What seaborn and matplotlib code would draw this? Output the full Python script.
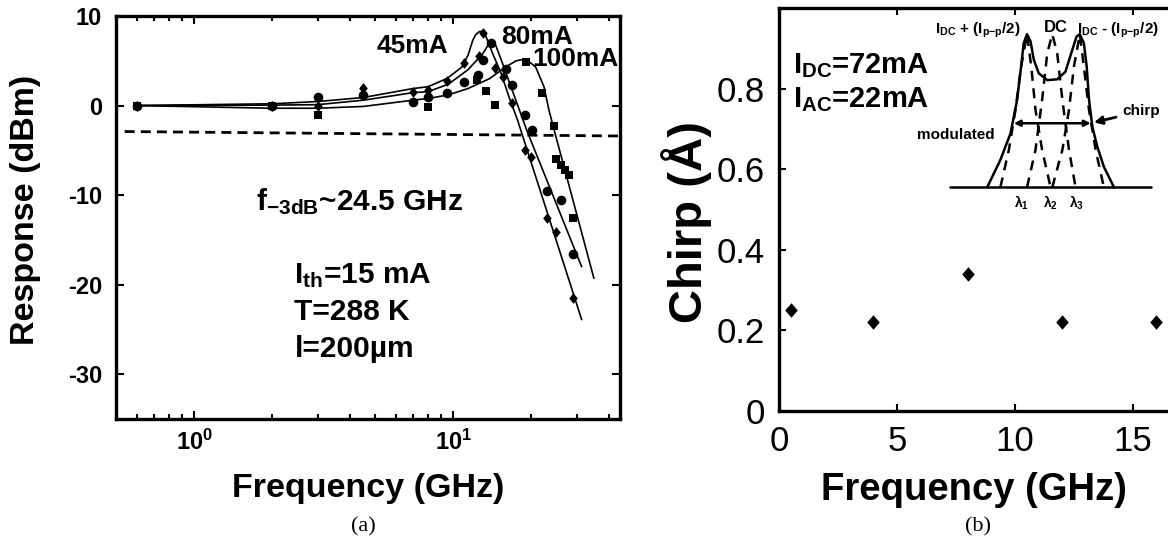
import numpy as np
import pandas as pd
import seaborn as sns
import matplotlib
matplotlib.use("Agg")
import matplotlib.pyplot as plt
from matplotlib.ticker import FixedLocator, LogLocator, NullFormatter

# --- (a) modulation response ---
f45 = [0.6, 2, 3, 4.5, 7, 8, 9.5, 11.0, 12.6, 13.0, 14.5, 15.5, 16.9, 19.0, 19.9, 23.1, 25.0, 29.0]
r45 = [0, 0, 0, 2.0, 1.55, 1.75, 2.7, 4.7, 5.5, 8.1, 4.2, 3.2, 0.3, -5.0, -5.7, -12.6, -14.1, -21.5]
f80 = [0.6, 2, 3, 4.5, 7, 8, 9.5, 11.0, 12.5, 13.0, 14.0, 16.0, 16.9, 19.0, 20.2, 23.1, 26.1, 29.0]
r80 = [0, 0, 1.0, 1.2, 0.45, 1.0, 1.35, 2.6, 3.4, 5.1, 7.0, 4.05, 2.3, -1.05, -2.7, -9.5, -10.5, -16.6]
f100 = [0.6, 2, 3, 8, 12.4, 13.4, 14.5, 19.05, 22.1, 24.5, 25.0, 26.0, 27.0, 28.0, 29.0]
r100 = [0, 0, -1.0, -0.2, 2.9, 1.6, 0.1, 4.9, 1.45, -2.3, -6.0, -6.6, -7.2, -7.8, -12.6]

# fitted curves (traced)
fit45_f = [0.6, 2, 3, 4.5, 7, 8, 9.5, 10.8, 11.4, 11.9, 12.2, 12.6, 12.95, 13.3, 14.2, 15.3, 16.4, 17.7, 19.6, 25, 31.3]
fit45_r = [0, 0.2, 0.45, 0.9, 1.9, 2.1, 3.05, 4.3, 5.6, 7.3, 7.9, 8.25, 8.3, 7.9, 5.8, 3.6, 1.0, -1.6, -5.6, -15.1, -23.9]
fit80_f = [0.6, 2, 3, 4.5, 7, 8, 9.6, 11.4, 13.0, 13.6, 14.0, 14.6, 15.5, 16.7, 17.9, 19.3, 31.3]
fit80_r = [0, 0.05, 0.1, 0.6, 1.44, 1.55, 2.4, 4.0, 5.8, 6.7, 7.1, 6.7, 4.7, 2.1, -0.3, -2.9, -18.0]
fit100_f = [0.6, 2, 3, 4.5, 7, 8.07, 9.6, 11.4, 13.8, 15.9, 17.5, 19.05, 20.8, 22.4, 23.4, 24.5, 34.9]
fit100_r = [0, -0.3, -0.3, -0.1, 0.6, 0.8, 1.2, 1.9, 3.0, 4.3, 5.0, 5.2, 4.3, 2.1, -0.5, -2.7, -19.3]
ref3db_f = [0.54, 44]
ref3db_r = [-2.9, -3.4]

# --- (b) chirp ---
chirp_f = [0.5, 4, 8, 12, 16]
chirp_a = [0.25, 0.22, 0.34, 0.22, 0.22]

# inset sketch of the spectra (in chirp-axis units)
base_x = [7.27, 15.77]
base_y = [0.555, 0.555]
env_x = [8.83, 9.39, 9.82, 10.10, 10.27, 10.38, 10.52, 10.67, 10.81, 11.02, 11.38, 11.80, 12.15,
         12.44, 12.62, 12.76, 12.93, 13.05, 13.15, 13.29, 13.50, 13.78, 14.21]
env_y = [0.555, 0.623, 0.689, 0.772, 0.855, 0.913, 0.935, 0.917, 0.871, 0.838, 0.821, 0.823, 0.842,
         0.896, 0.929, 0.935, 0.913, 0.855, 0.772, 0.706, 0.656, 0.606, 0.555]
l1_x = [9.39, 9.75, 10.03, 10.27, 10.52, 10.70, 10.88, 11.16, 11.52]
l2_x = [10.52, 10.88, 11.16, 11.38, 11.59, 11.80, 12.02, 12.30, 12.58]
l3_x = [11.59, 12.02, 12.30, 12.51, 12.76, 12.93, 13.15, 13.43, 13.78]
l1_y = [0.555, 0.648, 0.747, 0.855, 0.935, 0.855, 0.747, 0.648, 0.555]
l2_y = [0.555, 0.648, 0.772, 0.888, 0.935, 0.888, 0.772, 0.648, 0.555]
l3_y = [0.555, 0.648, 0.747, 0.855, 0.935, 0.855, 0.747, 0.648, 0.555]

sns.set_theme(style="ticks")
plt.rcParams['font.family'] = ['Liberation Sans', 'DejaVu Sans']
plt.rcParams['mathtext.fontset'] = 'custom'
plt.rcParams['mathtext.rm'] = 'Liberation Sans'
plt.rcParams['mathtext.bf'] = 'Liberation Sans:bold'
plt.rcParams['mathtext.it'] = 'Liberation Sans:italic'
for k in ['text.color', 'axes.labelcolor', 'xtick.color', 'ytick.color', 'axes.edgecolor']:
    plt.rcParams[k] = 'black'

W, H = 1168, 544
fig = plt.figure(figsize=(W / 100, H / 100), dpi=100)
ax1 = fig.add_axes([116 / W, 1 - 419 / H, 504 / W, 403 / H])
ax2 = fig.add_axes([779 / W, 1 - 411 / H, 389 / W, 403 / H])

diamond = [(0, 1), (0.8, 0), (0, -1), (-0.8, 0), (0, 1)]
diamond_b = [(0, 1), (0.86, 0), (0, -1), (-0.86, 0), (0, 1)]

# ---------- (a) ----------
ax1.set_xscale('log')
for fx, fy in [(fit45_f, fit45_r), (fit80_f, fit80_r), (fit100_f, fit100_r)]:
    sns.lineplot(x=fx, y=fy, ax=ax1, sort=False, estimator=None, color='black', lw=1.2)
sns.lineplot(x=ref3db_f, y=ref3db_r, ax=ax1, sort=False, estimator=None, color='black', lw=2.0)
ax1.lines[-1].set_dashes([3.6, 2.2])

sns.scatterplot(x=f45, y=r45, ax=ax1, marker=diamond, s=60, color='black', linewidth=0)
sns.scatterplot(x=f80, y=r80, ax=ax1, marker='o', s=48, color='black', linewidth=0)
sns.scatterplot(x=f100, y=r100, ax=ax1, marker='s', s=36, color='black', linewidth=0)

ax1.set_xlim(0.5, 44)
ax1.set_ylim(-35, 10)
ax1.yaxis.set_major_locator(FixedLocator([10, 0, -10, -20, -30]))
ax1.set_yticklabels(['10', '0', '-10', '-20', '-30'], fontsize=17, fontweight='bold')
ax1.xaxis.set_major_locator(FixedLocator([1, 10]))
ax1.set_xticklabels([r'$\mathbf{10^0}$', r'$\mathbf{10^1}$'], fontsize=17)
ax1.xaxis.set_minor_locator(LogLocator(base=10, subs=np.arange(2, 10)))
ax1.xaxis.set_minor_formatter(NullFormatter())
ax1.tick_params(which='both', direction='in', top=True, right=True, width=1.5)
ax1.tick_params(which='major', length=6, pad=8)
ax1.tick_params(which='minor', length=3.5)
ax1.tick_params(axis='y', pad=10)
for sp in ax1.spines.values():
    sp.set_linewidth(2.4)
ax1.set_xlabel('Frequency (GHz)', fontsize=24.5, fontweight='bold')
ax1.set_ylabel('Response (dBm)', fontsize=24.5, fontweight='bold')
ax1.xaxis.set_label_coords(0.5, -0.134)
ax1.yaxis.set_label_coords(-0.148, 0.52)

tk = dict(fontweight='bold', va='baseline', ha='left')
ax1.text(5.05, 5.9, '45mA', fontsize=19, **tk)
ax1.text(15.3, 6.9, '80mA', fontsize=19, **tk)
ax1.text(20.2, 4.45, '100mA', fontsize=19, **tk)
ax1.text(1.74, -11.7, r'f$_{\mathbf{-3dB}}$~24.5 GHz', fontsize=21.5, **tk)
ax1.text(2.44, -19.8, r'I$_{\mathbf{th}}$=15 mA', fontsize=21.5, **tk)
ax1.text(2.44, -24.0, 'T=288 K', fontsize=21.5, **tk)
ax1.text(2.44, -28.1, 'l=200µm', fontsize=21.5, **tk)

# ---------- (b) ----------
sns.scatterplot(x=chirp_f, y=chirp_a, ax=ax2, marker=diamond_b, s=110, color='black', linewidth=0)
ax2.plot(base_x, base_y, color='black', lw=1.8)
ax2.plot(env_x, env_y, color='black', lw=1.8)
for lx, ly in [(l1_x, l1_y), (l2_x, l2_y), (l3_x, l3_y)]:
    ax2.plot(lx, ly, color='black', lw=1.8, dashes=[4, 3])
ax2.annotate('', xy=(9.96, 0.714), xytext=(13.22, 0.714),
             arrowprops=dict(arrowstyle='<|-|>', color='black', lw=1.8, mutation_scale=9,
                             shrinkA=0, shrinkB=0))
ax2.annotate('chirp', xy=(13.36, 0.716), xytext=(14.55, 0.734), fontsize=11, fontweight='bold',
             va='baseline', ha='left',
             arrowprops=dict(arrowstyle='-|>', color='black', lw=2, mutation_scale=12,
                             shrinkA=2, shrinkB=0))
ax2.text(7.5, 0.674, 'modulated', fontsize=11, fontweight='bold', ha='center', va='baseline')
ax2.text(10.24, 0.937, r'I$_{\mathbf{DC}}$ + (I$_{\mathbf{p{-}p}}$/2)', fontsize=11,
         fontweight='bold', ha='right', va='baseline')
ax2.text(11.74, 0.94, 'DC', fontsize=12, fontweight='bold', ha='center', va='baseline')
ax2.text(12.66, 0.937, r'I$_{\mathbf{DC}}$ - (I$_{\mathbf{p{-}p}}$/2)', fontsize=11,
         fontweight='bold', ha='left', va='baseline')
for lx, lab in zip([10.29, 11.52, 12.63], [r'$\mathbf{\lambda_1}$', r'$\mathbf{\lambda_2}$', r'$\mathbf{\lambda_3}$']):
    ax2.text(lx, 0.505, lab, fontsize=10, ha='center', va='baseline')
ax2.text(0.6, 0.839, r'I$_{\mathbf{DC}}$=72mA', fontsize=21, fontweight='bold', ha='left', va='baseline')
ax2.text(0.6, 0.755, r'I$_{\mathbf{AC}}$=22mA', fontsize=21, fontweight='bold', ha='left', va='baseline')

ax2.set_xlim(0, 16.5)
ax2.set_ylim(0, 1.0)
ax2.xaxis.set_major_locator(FixedLocator([0, 5, 10, 15]))
ax2.set_xticklabels(['0', '5', '10', '15'], fontsize=25)
ax2.yaxis.set_major_locator(FixedLocator([0, 0.2, 0.4, 0.6, 0.8]))
ax2.set_yticklabels(['0', '0.2', '0.4', '0.6', '0.8'], fontsize=25)
ax2.tick_params(direction='in', top=True, length=5, width=1.5, pad=10)
ax2.spines['right'].set_visible(False)
for sp in ['left', 'bottom', 'top']:
    ax2.spines[sp].set_linewidth(2.4)
ax2.set_xlabel('Frequency (GHz)', fontsize=27.5, fontweight='bold')
ax2.set_ylabel('Chirp (Å)', fontsize=34, fontweight='bold')
ax2.xaxis.set_label_coords(0.5, -0.151)
ax2.yaxis.set_label_coords(-0.172, 0.47)

fig.text(363 / W, 1 - 527 / H, '(a)', fontsize=16, family='Liberation Serif', ha='center', va='center')
fig.text(978 / W, 1 - 527 / H, '(b)', fontsize=16, family='Liberation Serif', ha='center', va='center')

fig.savefig('out.png', dpi=100)
